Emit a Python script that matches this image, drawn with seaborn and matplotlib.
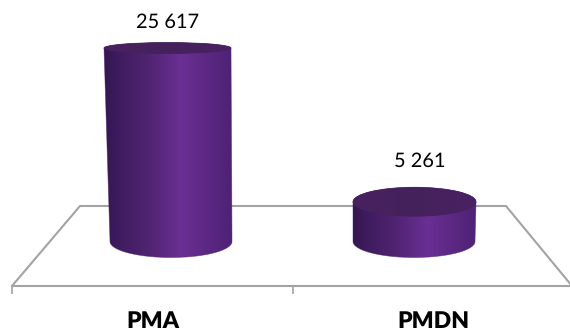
import numpy as np
import matplotlib
matplotlib.use("Agg")
import matplotlib.pyplot as plt
import seaborn as sns
from matplotlib.colors import LinearSegmentedColormap
from matplotlib.patches import Ellipse, PathPatch
from matplotlib.path import Path

# Investment totals by category
categories = ["PMA", "PMDN"]
values = [25617, 5261]
value_labels = ["25 617", "5 261"]

W, H = 570, 331
BASE_Y = 241.5          # pixel row of the value zero
TOP_VALUE_Y = 48.0      # pixel row of the largest value
CENTER_X = (171, 414)   # bar centres at the base
BAR_W = 122
RY_BOTTOM = 16
RY_TOP = (5.5, 14.5)    # perspective flattening of each lid
LEAN = (-3.5, 0.5)      # horizontal drift of each lid
LABEL_GAP = (25.5, 41)  # lid to value label distance

sns.set_theme(style="white")
plt.rcParams["font.family"] = ["Lato", "DejaVu Sans"]
plt.rcParams["text.hinting"] = "none"
plt.rcParams["text.hinting_factor"] = 1

fig = plt.figure(figsize=(W / 100, H / 100), dpi=100)
fig.patch.set_facecolor("white")
GRAY = "#a3a3a3"

# Floor plane: the category axis plus the perspective edges
floor = fig.add_axes([12 / W, (H - 286) / H, 562 / W, 80 / H], zorder=0)
floor.set_xlim(-0.5, 1.5)
floor.set_ylim(0, 1)
floor.patch.set_alpha(0)
sns.despine(ax=floor, left=True)
floor.spines["bottom"].set_color(GRAY)
floor.spines["bottom"].set_linewidth(1.5)
floor.set_yticks([])
floor.set_xticks(range(len(categories)), categories, fontsize=16.5, fontweight="heavy", color="black")
floor.set_xticks([-0.5, 0.5], minor=True)
floor.tick_params(axis="x", which="major", length=0, pad=18)
floor.tick_params(axis="x", which="minor", length=5.8, width=1.2, color=GRAY, bottom=True)
edge_px = [(12, 286), (80, 206), (506, 206), (572, 286)]
floor.plot([p[0] / W for p in edge_px], [1 - p[1] / H for p in edge_px],
           color=GRAY, lw=1.5, transform=fig.transFigure, clip_on=False)

# Bars on a frameless axes spanning the whole figure
ax = fig.add_axes([0, 0, 1, 1], zorder=1)
ax.patch.set_alpha(0)
sns.barplot(x=categories, y=values, width=BAR_W / (CENTER_X[1] - CENTER_X[0]), color="#552478", ax=ax)
ux = 1 / (CENTER_X[1] - CENTER_X[0])
uy = max(values) / (BASE_Y - TOP_VALUE_Y)
ax.set_xlim(-CENTER_X[0] * ux, (W - CENTER_X[0]) * ux)
ax.set_ylim(-(H - BASE_Y) * uy, BASE_Y * uy)
ax.axis("off")

body_cmap = LinearSegmentedColormap.from_list(
    "body", [(0, "#33174f"), (0.12, "#3f1c60"), (0.33, "#4f2370"), (0.6, "#6a2f94"),
             (0.8, "#5c2883"), (1, "#4e2274")])
lid_cmap = LinearSegmentedColormap.from_list(
    "lid", [(0, "#47225f"), (0.5, "#45215c"), (1, "#482262")])
gradient = np.linspace(0, 1, 256).reshape(1, -1)

for i, bar in enumerate(list(ax.patches)):
    bar.set_visible(False)
    cx = bar.get_x() + bar.get_width() / 2
    half = bar.get_width() / 2
    top = bar.get_height()
    height_px = top / uy
    top_half = half + 0.013 * height_px * ux
    top_cx = cx + LEAN[i] * ux
    ry_b = RY_BOTTOM * uy
    ry_t = RY_TOP[i] * uy

    # Cylinder wall: sides joined by the lower half of the base ellipse
    arc = np.linspace(np.pi, 2 * np.pi, 80)
    xs = np.r_[top_cx - top_half, cx + half * np.cos(arc), top_cx + top_half]
    ys = np.r_[top, ry_b * np.sin(arc), top]
    wall = PathPatch(Path(np.c_[xs, ys]), fc="none", ec="#4d2370", lw=0.5, alpha=0.6, zorder=3)
    ax.add_patch(wall)
    img = ax.imshow(gradient, cmap=body_cmap, aspect="auto", zorder=2, interpolation="bilinear",
                    extent=(min(xs), max(xs), -ry_b, top))
    img.set_clip_path(PathPatch(Path(np.c_[xs, ys]), transform=ax.transData))

    # Lid
    lid = Ellipse((top_cx, top), 2 * top_half, 2 * ry_t, fc="#47225f", ec="#47225f", lw=0.5, zorder=4)
    ax.add_patch(lid)
    lid_img = ax.imshow(gradient, cmap=lid_cmap, aspect="auto", zorder=5, interpolation="bilinear",
                        extent=(top_cx - top_half, top_cx + top_half, top - ry_t, top + ry_t))
    lid_img.set_clip_path(lid)

    ax.annotate(value_labels[i], (top_cx, top), xytext=(4 if i else 0, LABEL_GAP[i] * 0.72),
                textcoords="offset points", ha="center", va="center", fontsize=14.3, color="black",
                zorder=6)

ax.set_xlim(-CENTER_X[0] * ux, (W - CENTER_X[0]) * ux)
ax.set_ylim(-(H - BASE_Y) * uy, BASE_Y * uy)

fig.savefig("out.png", dpi=100, facecolor="white")
